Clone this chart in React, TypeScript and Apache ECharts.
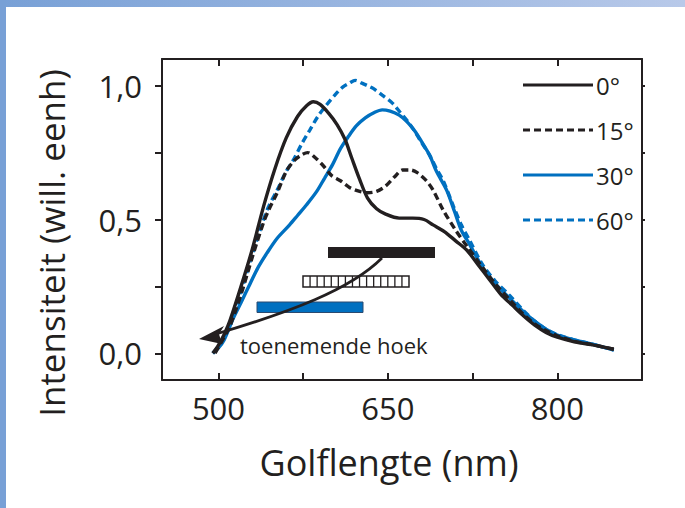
import React, { useEffect, useRef } from "react";
import * as echarts from "echarts";

// ---- data ----
const wl0 = [495, 500, 505, 510, 520, 530, 540, 550, 560, 570, 578, 584, 590, 598, 605, 612, 618, 625, 632, 640, 648, 660, 672, 682, 690, 700, 710, 720, 730, 740, 750, 760, 770, 780, 790, 800, 815, 830, 850];
const int0 = [0.0, 0.03, 0.07, 0.12, 0.25, 0.39, 0.55, 0.69, 0.805, 0.885, 0.925, 0.94, 0.93, 0.895, 0.855, 0.8, 0.73, 0.65, 0.58, 0.54, 0.52, 0.505, 0.505, 0.5, 0.48, 0.455, 0.42, 0.385, 0.33, 0.275, 0.22, 0.18, 0.14, 0.105, 0.078, 0.06, 0.043, 0.032, 0.015];

const wl15 = [497, 505, 510, 520, 530, 540, 545, 552, 560, 567, 573, 579, 586, 593, 600, 608, 616, 625, 632, 640, 648, 656, 663, 670, 676, 684, 690, 699, 710, 720, 734, 745, 760, 770, 780, 790, 800, 815, 830, 850];
const int15 = [0.0, 0.06, 0.1, 0.22, 0.36, 0.49, 0.54, 0.6, 0.68, 0.72, 0.74, 0.75, 0.73, 0.7, 0.665, 0.645, 0.62, 0.605, 0.6, 0.605, 0.625, 0.66, 0.685, 0.685, 0.675, 0.645, 0.61, 0.535, 0.46, 0.4, 0.32, 0.26, 0.19, 0.145, 0.11, 0.085, 0.065, 0.045, 0.033, 0.015];

const wl30 = [495, 500, 505, 513, 520, 528, 535, 543, 552, 563, 570, 578, 587, 594, 601, 608, 615, 622, 630, 638, 645, 652, 660, 667, 674, 680, 687, 693, 702, 709, 715, 722, 734, 745, 758, 770, 780, 790, 800, 815, 830, 850];
const int30 = [0.0, 0.02, 0.05, 0.13, 0.19, 0.26, 0.32, 0.375, 0.43, 0.48, 0.515, 0.555, 0.605, 0.655, 0.705, 0.765, 0.81, 0.85, 0.88, 0.9, 0.91, 0.905, 0.89, 0.865, 0.83, 0.79, 0.74, 0.68, 0.61, 0.53, 0.46, 0.41, 0.32, 0.26, 0.205, 0.155, 0.12, 0.09, 0.068, 0.05, 0.035, 0.012];

const wl60 = [495, 500, 505, 510, 520, 530, 543, 552, 560, 566, 574, 581, 588, 596, 603, 610, 616, 621, 627, 632, 637, 645, 654, 661, 667, 673, 678, 687, 693, 699, 708, 715, 722, 734, 745, 758, 770, 780, 790, 800, 815, 830, 850];
const int60 = [0.0, 0.025, 0.06, 0.1, 0.23, 0.37, 0.535, 0.61, 0.68, 0.72, 0.785, 0.835, 0.885, 0.93, 0.965, 0.995, 1.01, 1.02, 1.01, 1.0, 0.99, 0.965, 0.935, 0.9, 0.87, 0.835, 0.8, 0.74, 0.69, 0.645, 0.55, 0.48, 0.425, 0.33, 0.27, 0.215, 0.16, 0.12, 0.09, 0.07, 0.05, 0.035, 0.012];

const seriesNames = ["0°", "15°", "30°", "60°"];
const xLabelValues = [500, 650, 800];
const xTickValues = [500, 575, 650, 725, 800];
const yLabelValues = [0, 0.5, 1];
const yTickValues = [0, 0.25, 0.5, 0.75, 1];
const xTitle = "Golflengte (nm)";
const yTitle = "Intensiteit (will. eenh)";
const annotation = "toenemende hoek";

const INK = "#231f20";
const BLUE = "#0070c0";
const FONT = "Open Sans";

const pairs = (xs: number[], ys: number[]) => xs.map((x, i) => [x, ys[i]]);

export default function App() {
  const ref = useRef<HTMLDivElement>(null);
  useEffect(() => {
    document.body.style.margin = "0";
    if (!ref.current) return;
    const chart = echarts.init(ref.current, null, { renderer: "svg" });

    const axisLine = { show: true, onZero: false, lineStyle: { color: INK, width: 2 } };
    const tickStyle = { color: INK, width: 2 };

    const colors = [INK, INK, BLUE, BLUE];
    const dashed = [false, true, false, true];
    const DASH = [7, 4];

    // hatch lines for the striped bar
    const hatchX = 303, hatchY = 276, hatchW = 106, hatchH = 11, cells = 15;
    const hatch: any[] = [];
    for (let i = 1; i < cells; i++) {
      const xx = hatchX + (hatchW * i) / cells;
      hatch.push({
        type: "line",
        shape: { x1: xx, y1: hatchY, x2: xx, y2: hatchY + hatchH },
        style: { stroke: INK, lineWidth: 1.3 },
        z: 10,
      });
    }

    // legend drawn as lines + texts
    const legendEls: any[] = [];
    seriesNames.forEach((n, i) => {
      const y = 85 + i * 45;
      legendEls.push({
        type: "line",
        shape: { x1: 523, y1: y, x2: 593, y2: y },
        style: { stroke: colors[i], lineWidth: 3.2, lineDash: dashed[i] ? DASH : null },
        z: 10,
      });
      legendEls.push({
        type: "text",
        x: 596,
        y: y,
        style: { text: n, fill: INK, fontSize: 24, fontFamily: FONT, align: "left", verticalAlign: "middle" },
        z: 10,
      });
    });

    const mk = (i: number, data: number[][], z: number) => ({
      name: seriesNames[i],
      type: "line",
      data,
      smooth: 0.3,
      symbol: "none",
      z,
      lineStyle: { color: colors[i], width: 3.4, type: dashed[i] ? DASH : "solid" },
      itemStyle: { color: colors[i] },
    });

    chart.setOption({
      animation: false,
      backgroundColor: "transparent",
      grid: { left: 162, right: 43, top: 59, bottom: 128 },
      xAxis: [
        {
          type: "value",
          min: 450,
          max: 875,
          position: "bottom",
          axisLine,
          axisTick: { show: true, inside: true, length: 7, lineStyle: tickStyle, customValues: xTickValues },
          axisLabel: { customValues: xLabelValues, margin: 12, fontSize: 31, color: INK, fontFamily: FONT },
          splitLine: { show: false },
        },
        {
          type: "value",
          min: 450,
          max: 875,
          position: "top",
          axisLine,
          axisTick: { show: true, inside: true, length: 7, lineStyle: tickStyle, customValues: xTickValues },
          axisLabel: { show: false },
          splitLine: { show: false },
        },
      ],
      yAxis: [
        {
          type: "value",
          min: -0.1,
          max: 1.1,
          position: "left",
          axisLine,
          axisTick: { show: true, inside: false, length: 7, lineStyle: tickStyle, customValues: yTickValues },
          axisLabel: {
            customValues: yLabelValues,
            margin: 20,
            fontSize: 31,
            color: INK,
            fontFamily: FONT,
            formatter: (v: number) => v.toFixed(1).replace(".", ","),
          },
          splitLine: { show: false },
        },
        {
          type: "value",
          min: -0.1,
          max: 1.1,
          position: "right",
          axisLine,
          axisTick: { show: true, inside: false, length: 3, lineStyle: tickStyle, customValues: yTickValues },
          axisLabel: { show: false },
          splitLine: { show: false },
        },
      ],
      series: [
        mk(0, pairs(wl0, int0), 4),
        mk(1, pairs(wl15, int15), 3),
        mk(2, pairs(wl30, int30), 2),
        mk(3, pairs(wl60, int60), 1),
      ],
      graphic: [
        ...legendEls,
        { type: "rect", shape: { x: 328, y: 247, width: 107, height: 11 }, style: { fill: INK }, z: 10 },
        {
          type: "rect",
          shape: { x: hatchX, y: hatchY, width: hatchW, height: hatchH },
          style: { fill: "#fff", stroke: INK, lineWidth: 1.5 },
          z: 9,
        },
        ...hatch,
        {
          type: "rect",
          shape: { x: 257, y: 302, width: 106, height: 10.5 },
          style: { fill: BLUE, stroke: "#2a4a70", lineWidth: 1 },
          z: 10,
        },
        {
          type: "bezierCurve",
          shape: { x1: 382, y1: 258, cpx1: 350, cpy1: 290, cpx2: 290, cpy2: 312, x2: 216, y2: 334 },
          style: { stroke: INK, lineWidth: 2.8, fill: "none" },
          z: 11,
        },
        {
          type: "polygon",
          shape: { points: [[199, 339], [224, 326], [219, 334], [222, 344]] },
          style: { fill: INK },
          z: 11,
        },
        {
          type: "text",
          x: 240,
          y: 345,
          style: { text: annotation, fill: INK, fontSize: 22, fontFamily: FONT, align: "left", verticalAlign: "middle" },
          z: 11,
        },
        {
          type: "text",
          x: 389,
          y: 462,
          style: { text: xTitle, fill: INK, fontSize: 36, fontFamily: FONT, align: "center", verticalAlign: "middle" },
        },
        {
          type: "text",
          x: 51,
          y: 243,
          rotation: Math.PI / 2,
          style: { text: yTitle, fill: INK, fontSize: 35, fontFamily: FONT, align: "center", verticalAlign: "middle" },
        },
      ],
    });
    return () => chart.dispose();
  }, []);

  return (
    <div style={{ position: "relative", width: 685, height: 508, background: "#fff", overflow: "hidden" }}>
      <div ref={ref} style={{ position: "absolute", left: 0, top: 0, width: 685, height: 508 }} />
      <div
        style={{
          position: "absolute",
          left: 0,
          top: 0,
          width: 685,
          height: 7,
          background: "linear-gradient(to right, #78a0d6, #b8c9e9)",
        }}
      />
      <div style={{ position: "absolute", left: 0, top: 0, width: 6, height: 508, background: "#78a0d6" }} />
    </div>
  );
}
